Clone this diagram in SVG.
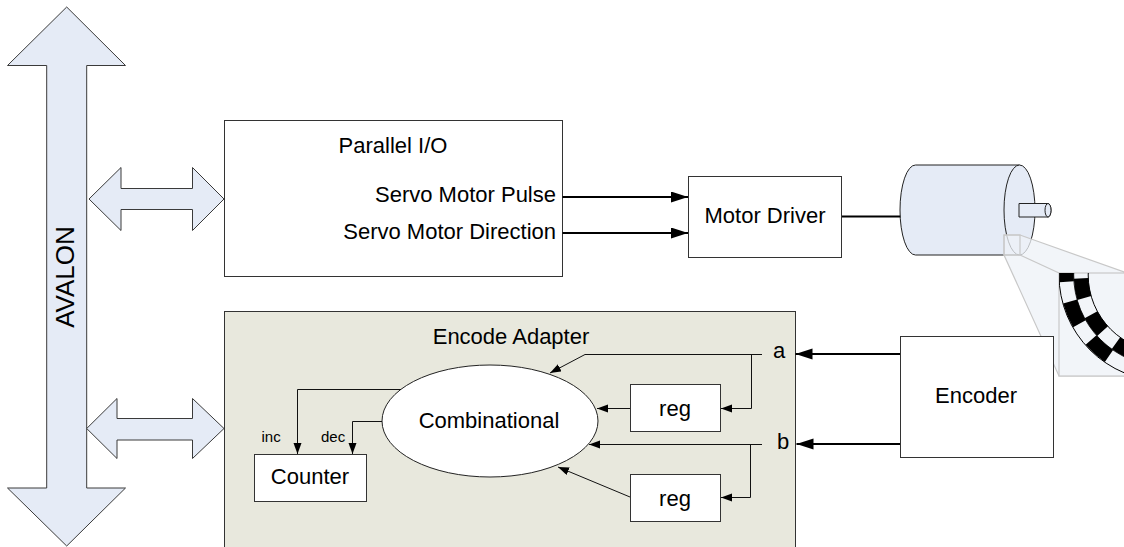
<svg xmlns="http://www.w3.org/2000/svg" width="1124" height="547" viewBox="0 0 1124 547">
  <style>
    text { font-family: "Liberation Sans", Arial, sans-serif; fill: #000; }
    .lbl { font-size: 22px; }
    .sm { font-size: 15px; }
    .mid { text-anchor: middle; }
    .end { text-anchor: end; }
    .box { fill: #fff; stroke: #333; stroke-width: 1; }
    .bus { fill: #e5ebf6; stroke: #3a3a3a; stroke-width: 1; stroke-linejoin: miter; }
    .thick { fill: none; stroke: #000; stroke-width: 2; }
    .thin { fill: none; stroke: #111; stroke-width: 1; }
    .motor { fill: #e5ebf6; stroke: #222; stroke-width: 1; }
    .zoomcone { fill: #eef2f7; fill-opacity: 0.75; stroke: #c8c8c8; stroke-width: 1.2; }
  </style>
  <defs>
    <marker id="arrowBig" markerUnits="userSpaceOnUse" markerWidth="18" markerHeight="12" refX="17" refY="5.5" orient="auto">
      <path d="M0,0 L17,5.5 L0,11 z" fill="#000"/>
    </marker>
    <marker id="arrowSmall" markerUnits="userSpaceOnUse" markerWidth="12" markerHeight="9" refX="11" refY="4" orient="auto">
      <path d="M0,0 L11,4 L0,8 z" fill="#000"/>
    </marker>
    <clipPath id="zoomClip">
      <rect x="1059" y="273" width="70" height="103"/>
    </clipPath>
  </defs>

  <!-- system bus -->
  <g id="avalon">
    <polygon class="bus" points="66.7,7 125.5,65.5 86.7,65.5 86.7,488 125.5,488 66.7,546 7.5,488 46.7,488 46.7,65.5 7.5,65.5"/>
    <text class="mid" font-size="26" transform="translate(73.5,277) rotate(-90)">AVALON</text>
  </g>

  <!-- bus links -->
  <g id="link-pio">
    <polygon class="bus" points="89,199 121,167.5 121,188.5 192.5,188.5 192.5,167.5 224,199 192.5,230.5 192.5,209.5 121,209.5 121,230.5"/>
  </g>
  <g id="link-encoder">
    <polygon class="bus" points="86.7,428.5 117,398.5 117,418.5 192.5,418.5 192.5,398.5 224,428.5 192.5,458.5 192.5,440 117,440 117,458.5"/>
  </g>

  <!-- parallel I/O -->
  <g id="pio">
    <rect class="box" x="224.5" y="120.5" width="338" height="156"/>
    <text class="lbl mid" x="393" y="153">Parallel I/O</text>
    <text class="lbl end" x="556" y="202">Servo Motor Pulse</text>
    <text class="lbl end" x="556" y="239">Servo Motor Direction</text>
  </g>

  <!-- motor driver -->
  <g id="motor-driver">
    <rect class="box" x="688.5" y="176.5" width="153" height="81"/>
    <text class="lbl mid" x="765" y="223">Motor Driver</text>
  </g>

  <!-- servo motor -->
  <g id="motor">
    <path class="motor" d="M915.5,165 L1019.5,165 L1019.5,255 L915.5,255 A15.5,45 0 0 1 915.5,165 z"/>
    <ellipse class="motor" cx="1019.5" cy="210" rx="15.5" ry="45"/>
    <path class="motor" d="M1019,203.5 L1048,203.5 A3,6.75 0 0 1 1048,217 L1019,217 z"/>
    <ellipse class="motor" cx="1048" cy="210.25" rx="3" ry="6.75"/>
  </g>

  <!-- encoder disk detail -->
  <g id="encoder-detail">
    <polygon class="zoomcone" points="1004,235 1020,235 1124,272 1124,376 1059,376 1004,255"/>
    <line x1="1020" y1="255" x2="1059" y2="273" stroke="#c8c8c8" stroke-width="1.2"/>
    <rect x="1004" y="235" width="16" height="20" fill="none" stroke="#c8c8c8" stroke-width="1.2"/>
    <rect x="1059" y="273" width="70" height="103" fill="#f2f5f9" stroke="#c8c8c8" stroke-width="1.2"/>
    <g clip-path="url(#zoomClip)">
      <circle cx="1165" cy="275" r="98.5" fill="none" stroke="#000" stroke-width="14.5" stroke-dasharray="24 20" stroke-dashoffset="6"/>
      <circle cx="1165" cy="275" r="84" fill="none" stroke="#000" stroke-width="14.5" stroke-dasharray="20 18" stroke-dashoffset="26"/>
      <circle cx="1165" cy="275" r="106" fill="none" stroke="#000" stroke-width="1"/>
      <circle cx="1165" cy="275" r="91.3" fill="none" stroke="#000" stroke-width="0.8"/>
      <circle cx="1165" cy="275" r="76.8" fill="none" stroke="#000" stroke-width="1"/>
    </g>
  </g>

  <!-- encoder -->
  <g id="encoder">
    <rect class="box" x="900.5" y="336.5" width="153" height="121" stroke="#555"/>
    <text class="lbl mid" x="976" y="403">Encoder</text>
  </g>

  <!-- encode adapter -->
  <g id="encode-adapter">
    <rect x="224.5" y="311.5" width="571" height="240" fill="#e8e8dd" stroke="#333" stroke-width="1"/>
    <text class="lbl mid" x="511" y="344">Encode Adapter</text>
    <text class="lbl" x="773" y="358">a</text>
    <text class="lbl" x="777" y="449">b</text>
  </g>
  <g id="combinational">
    <ellipse cx="490" cy="421" rx="108" ry="56" fill="#fff" stroke="#222" stroke-width="1"/>
    <text class="lbl mid" x="489" y="428">Combinational</text>
  </g>
  <g id="reg-a">
    <rect class="box" x="630.5" y="384.5" width="90" height="47"/>
    <text class="lbl mid" x="675" y="416">reg</text>
  </g>
  <g id="reg-b">
    <rect class="box" x="630.5" y="474.5" width="90" height="47"/>
    <text class="lbl mid" x="675" y="506">reg</text>
  </g>
  <g id="counter">
    <rect class="box" x="254.5" y="454.5" width="112" height="47"/>
    <text class="lbl mid" x="310" y="484">Counter</text>
    <text class="sm" x="261.5" y="442">inc</text>
    <text class="sm" x="321" y="442">dec</text>
  </g>

  <!-- connectors -->
  <g id="connectors">
    <path class="thick" d="M562.5,197 L688,197" marker-end="url(#arrowBig)"/>
    <path class="thick" d="M562.5,233 L688,233" marker-end="url(#arrowBig)"/>
    <path class="thick" d="M842,216.5 L900.3,216.5"/>
    <path class="thick" d="M900,354 L795.5,354" marker-end="url(#arrowBig)"/>
    <path class="thick" d="M900,444 L796.5,444" marker-end="url(#arrowBig)"/>

    <path class="thin" d="M762,354.5 L585,354.5 L550,373" marker-end="url(#arrowSmall)"/>
    <path class="thin" d="M751.5,354.5 L751.5,408.5 L721,408.5" marker-end="url(#arrowSmall)"/>
    <path class="thin" d="M630,408.5 L597,408.5" marker-end="url(#arrowSmall)"/>
    <path class="thin" d="M762,444.5 L589,444.5" marker-end="url(#arrowSmall)"/>
    <path class="thin" d="M750.5,444.5 L750.5,497.5 L721,497.5" marker-end="url(#arrowSmall)"/>
    <path class="thin" d="M630,497 L558,467" marker-end="url(#arrowSmall)"/>
    <path class="thin" d="M401,389.5 L297.5,389.5 L297.5,454" marker-end="url(#arrowSmall)"/>
    <path class="thin" d="M382,421.5 L352.5,421.5 L352.5,454" marker-end="url(#arrowSmall)"/>
  </g>
</svg>
